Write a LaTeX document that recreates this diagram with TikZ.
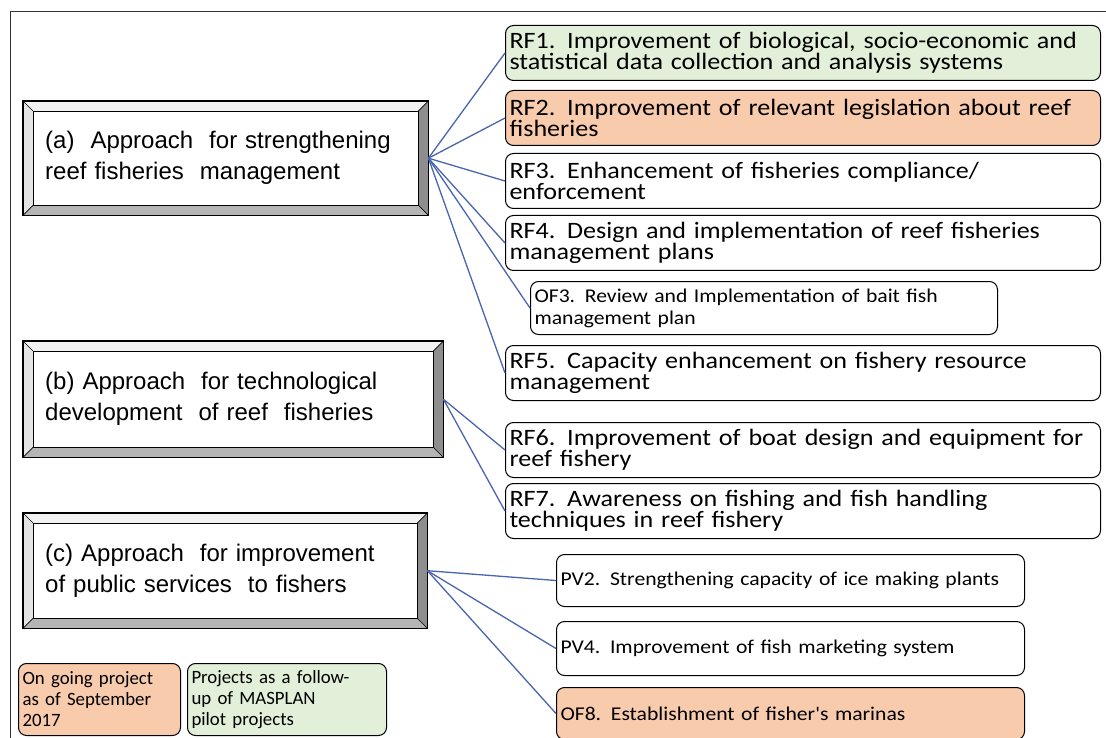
\documentclass[tikz,border=0pt]{standalone}
\usepackage{fontspec}
\setmainfont{Liberation Sans}
\newfontfamily\carl{Carlito}
\newfontfamily\carlw{Carlito}[FakeStretch=1.11]
\usetikzlibrary{calc}
\definecolor{lgreen}{HTML}{E2EFD9}
\definecolor{lorange}{HTML}{F8CBAD}
\definecolor{conn}{HTML}{4A65B0}
\definecolor{bevtopc}{HTML}{F2F2F2}
\definecolor{bevleftc}{HTML}{E4E4E4}
\definecolor{bevrightc}{HTML}{8E8E8E}
\definecolor{bevbotc}{HTML}{B5B5B5}
\tikzset{
  appr/.style={fill=white, inner xsep=22pt, inner ysep=0pt, align=left, anchor=north west,
    minimum height=114pt, font=\fontsize{24}{31}\selectfont},
  rf/.style={draw, rounded corners=8pt, line width=1pt, fill=white, inner xsep=4pt, inner ysep=0pt,
    align=left, anchor=north west, text width=587pt, minimum height=55pt,
    font=\carlw\fontsize{23.5}{21}\selectfont},
  small/.style={draw, rounded corners=8pt, line width=1pt, fill=white, inner xsep=4pt, inner ysep=0pt,
    align=left, anchor=north west, font=\carlw\fontsize{19.5}{22}\selectfont},
  legend/.style={small, font=\carl\fontsize{18.8}{21}\selectfont},
  link/.style={conn, line width=1.3pt},
}
\newcommand{\bevelize}[1]{%
  \fill[bevtopc] (#1.north west) -- (#1.north east) -- ($(#1.north east)+(-10,10)$) -- ($(#1.north west)+(10,10)$) -- cycle;
  \fill[bevleftc] (#1.north west) -- ($(#1.north west)+(10,10)$) -- ($(#1.south west)+(10,-10)$) -- (#1.south west) -- cycle;
  \fill[bevrightc] (#1.north east) -- (#1.south east) -- ($(#1.south east)+(-10,-10)$) -- ($(#1.north east)+(-10,10)$) -- cycle;
  \fill[bevbotc] (#1.south west) -- (#1.south east) -- ($(#1.south east)+(-10,-10)$) -- ($(#1.south west)+(10,-10)$) -- cycle;
  \draw[line width=0.9pt] ($(#1.north west)+(10,10)$) rectangle ($(#1.south east)+(-10,-10)$);
  \draw[line width=0.7pt] (#1.north west) -- ++(10,10) (#1.north east) -- ++(-10,10)
     (#1.south west) -- ++(10,-10) (#1.south east) -- ++(-10,-10);
  \draw[line width=1.6pt] (#1.north west) rectangle (#1.south east);
}
\begin{document}
\begin{tikzpicture}[x=1pt,y=-1pt]
\useasboundingbox (0,0) rectangle (1106,738);
\draw[line width=1pt, black!80] (10,738) -- (10,12) -- (1106,12);

% approach boxes
\node[appr, text width=361pt] (la) at (23,101) {(a)\ \ Approach\ \ for strengthening\\reef fisheries\ \ management};
\bevelize{la}
\node[appr, text width=376pt, minimum height=116pt] (lb) at (23,341) {(b) Approach\ \ for technological\\development\ \ of reef\ \ fisheries};
\bevelize{lb}
\node[appr, text width=360pt, minimum height=115pt] (lc) at (23,513) {(c) Approach\ \ for improvement\\of public services\ \ to fishers};
\bevelize{lc}

% right boxes
\node[rf, fill=lgreen] (rf1) at (505,25) {RF1. Improvement of biological, socio-economic and\\statistical data collection and analysis systems};
\node[rf, fill=lorange] (rf2) at (505,90) {RF2. Improvement of relevant legislation about reef\\fisheries};
\node[rf] (rf3) at (505,153) {RF3. Enhancement of fisheries compliance/\\enforcement};
\node[rf] (rf4) at (505,215) {RF4. Design and implementation of reef fisheries\\management plans};
\node[small, text width=459pt, minimum height=53pt] (of3) at (530,281) {OF3. Review and Implementation of bait fish\\management plan};
\node[rf] (rf5) at (505,345) {RF5. Capacity enhancement on fishery resource\\management};
\node[rf] (rf6) at (505,422) {RF6. Improvement of boat design and equipment for\\reef fishery};
\node[rf] (rf7) at (505,483) {RF7. Awareness on fishing and fish handling\\techniques in reef fishery};

\node[small, text width=460pt, minimum height=52pt] (pv2) at (556,554) {PV2. Strengthening capacity of ice making plants};
\node[small, text width=460pt, minimum height=54pt] (pv4) at (556,621) {PV4. Improvement of fish marketing system};
\node[small, fill=lorange, text width=460pt, minimum height=52pt] (of8) at (556,687) {OF8. Establishment of fisher's marinas};

% legend
\node[legend, fill=lorange, text width=154pt, minimum height=72pt] (leg1) at (18,663) {On going project\\as of September\\2017};
\node[legend, fill=lgreen, text width=191pt, minimum height=72pt] (leg2) at (187,663) {Projects as a follow-\\up of MASPLAN\\pilot projects};

% connectors
\foreach \t in {rf1,rf2,rf3,rf4,of3,rf5} \draw[link] (la.east) -- (\t.west);
\foreach \t in {rf6,rf7} \draw[link] (lb.east) -- (\t.west);
\foreach \t in {pv2,pv4,of8} \draw[link] (lc.east) -- (\t.west);
\end{tikzpicture}
\end{document}
